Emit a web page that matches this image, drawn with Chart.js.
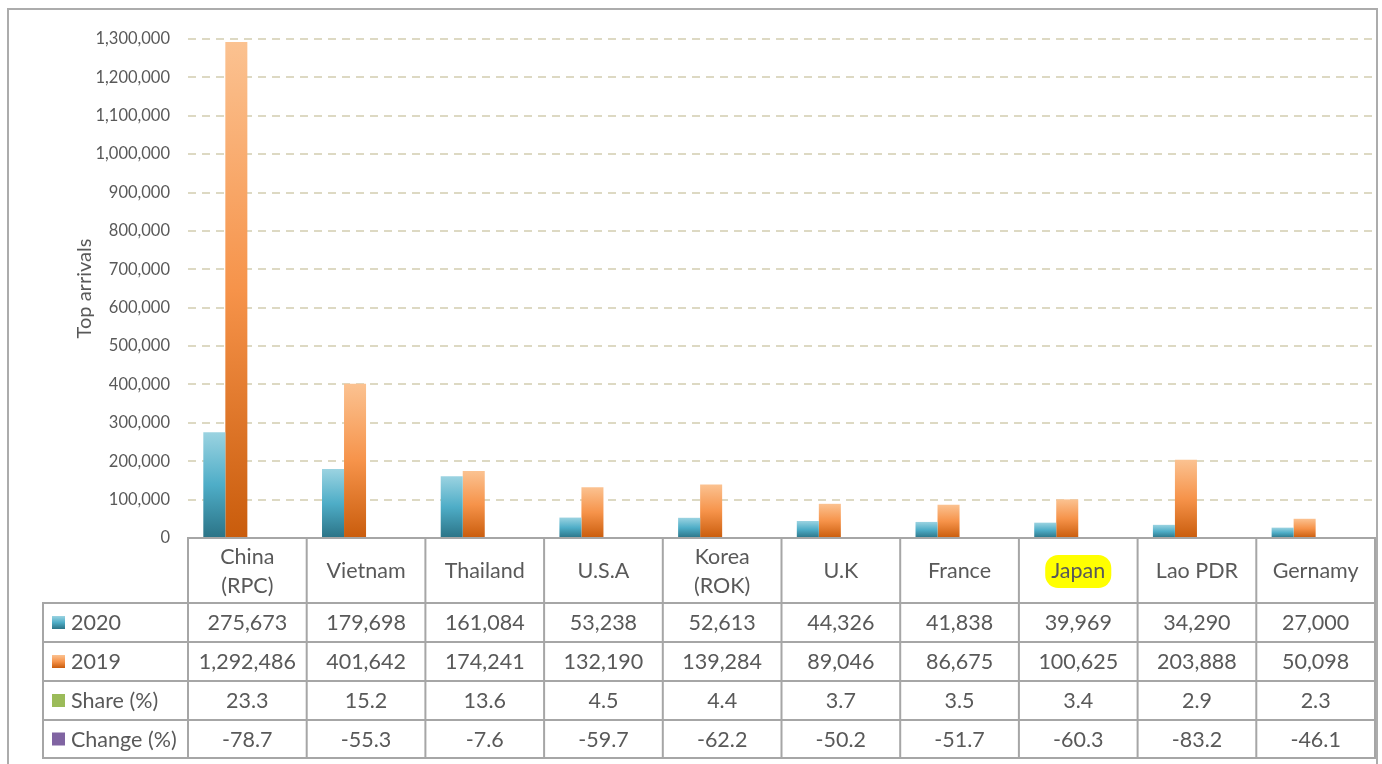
<!DOCTYPE html>
<html><head><meta charset="utf-8">
<script src="https://cdn.jsdelivr.net/npm/chart.js@4"></script>
<style>html,body{margin:0;padding:0;background:#fff;overflow:hidden}canvas{display:block}</style>
</head><body>
<canvas id="c" width="1382" height="764"></canvas>
<script>
// ---- data ----
const categories = ['China\n(RPC)', 'Vietnam', 'Thailand', 'U.S.A', 'Korea\n(ROK)', 'U.K', 'France', 'Japan', 'Lao PDR', 'Gernamy'];
const arrivals2020 = [275673, 179698, 161084, 53238, 52613, 44326, 41838, 39969, 34290, 27000];
const arrivals2019 = [1292486, 401642, 174241, 132190, 139284, 89046, 86675, 100625, 203888, 50098];
const sharePct = [23.3, 15.2, 13.6, 4.5, 4.4, 3.7, 3.5, 3.4, 2.9, 2.3];
const changePct = [-78.7, -55.3, -7.6, -59.7, -62.2, -50.2, -51.7, -60.3, -83.2, -46.1];
const seriesNames = ['2020', '2019', 'Share (%)', 'Change (%)'];
const highlightedCategories = ['Japan'];
const yAxisTitle = 'Top arrivals';
const yMin = 0, yMax = 1300000, yStep = 100000;

// ---- styles ----
const TEXT = '#595959';
const FONT = 'Lato, "Open Sans", sans-serif';
const blueStops = ['#9bd3e1', '#4eadc7', '#2b7386'];
const orangeStops = ['#fbc291', '#f6934a', '#c95c0c'];
const greenColor = '#9bbb59';
const purpleColor = '#8064a2';

function barGradient(stops) {
  return function (ctx) {
    const chart = ctx.chart;
    if (!chart.chartArea || ctx.type !== 'data') return stops[1];
    const ys = chart.scales.y;
    const v = ctx.raw;
    const top = ys.getPixelForValue(Math.max(v, 0));
    const bot = ys.getPixelForValue(0);
    if (Math.abs(bot - top) < 1) return stops[1];
    const g = chart.ctx.createLinearGradient(0, top, 0, bot);
    g.addColorStop(0, stops[0]);
    g.addColorStop(0.5, stops[1]);
    g.addColorStop(1, stops[2]);
    return g;
  };
}

const fmtInt = v => v.toLocaleString('en-US');
const fmt1 = v => v.toFixed(1);

const tableRows = [
  { name: seriesNames[0], values: arrivals2020.map(fmtInt), key: blueStops },
  { name: seriesNames[1], values: arrivals2019.map(fmtInt), key: orangeStops },
  { name: seriesNames[2], values: sharePct.map(fmt1), key: greenColor },
  { name: seriesNames[3], values: changePct.map(fmt1), key: purpleColor }
];

const frame = {
  id: 'frame',
  beforeDraw(chart) {
    const ctx = chart.ctx;
    ctx.save();
    ctx.fillStyle = '#fff';
    ctx.fillRect(0, 0, chart.width, chart.height);
    ctx.strokeStyle = '#acacac';
    ctx.lineWidth = 2;
    ctx.strokeRect(8, 9, 1369, 800);
    ctx.restore();
  }
};

const dataTable = {
  id: 'dataTable',
  afterDraw(chart) {
    const { ctx, chartArea: ca } = chart;
    const n = categories.length;
    const cw = (ca.right - ca.left) / n;
    const rowH = [65, 39, 39, 39, 38];
    const rowY = [ca.bottom];
    rowH.forEach(h => rowY.push(rowY[rowY.length - 1] + h));
    const legendLeft = 43;
    ctx.save();
    // category labels
    ctx.font = '21.5px ' + FONT;
    ctx.textAlign = 'center';
    ctx.textBaseline = 'middle';
    categories.forEach((c, i) => {
      const cx = chart.scales.x.getPixelForValue(i);
      const lines = c.split('\n');
      const cy = (rowY[0] + rowY[1]) / 2 + 1;
      const lh = 29;
      if (highlightedCategories.includes(c)) {
        const w = ctx.measureText(c).width + 12;
        const h = 33;
        ctx.fillStyle = '#ffff00';
        ctx.beginPath();
        ctx.roundRect(cx - w / 2, cy - h / 2, w, h, 13);
        ctx.fill();
      }
      ctx.fillStyle = TEXT;
      lines.forEach((ln, k) => {
        ctx.fillText(ln, cx, cy + (k - (lines.length - 1) / 2) * lh);
      });
    });
    // data rows
    tableRows.forEach((r, ri) => {
      const y0 = rowY[ri + 1], y1 = rowY[ri + 2];
      const cy = (y0 + y1) / 2;
      // key
      const ks = 13;
      if (Array.isArray(r.key)) {
        const g = ctx.createLinearGradient(0, cy - ks / 2, 0, cy + ks / 2);
        g.addColorStop(0, r.key[0]); g.addColorStop(0.5, r.key[1]); g.addColorStop(1, r.key[2]);
        ctx.fillStyle = g;
      } else ctx.fillStyle = r.key;
      ctx.fillRect(52, cy - ks / 2, ks, ks);
      ctx.fillStyle = TEXT;
      ctx.textAlign = 'left';
      ctx.fillText(r.name, 71, cy + 1);
      ctx.textAlign = 'center';
      r.values.forEach((v, i) => {
        ctx.fillText(v, chart.scales.x.getPixelForValue(i), cy + 1);
      });
    });
    // grid lines
    ctx.strokeStyle = '#a6a6a6';
    ctx.lineWidth = 2;
    ctx.beginPath();
    ctx.moveTo(ca.left, rowY[0]); ctx.lineTo(ca.right, rowY[0]);
    for (let k = 1; k < rowY.length; k++) {
      ctx.moveTo(legendLeft, rowY[k]); ctx.lineTo(ca.right, rowY[k]);
    }
    for (let i = 0; i <= n; i++) {
      const x = ca.left + i * cw;
      ctx.moveTo(x, rowY[0] - 1); ctx.lineTo(x, rowY[rowY.length - 1] + 1);
    }
    ctx.moveTo(legendLeft, rowY[1] - 1); ctx.lineTo(legendLeft, rowY[rowY.length - 1] + 1);
    ctx.stroke();
    ctx.restore();
  }
};

new Chart(document.getElementById('c'), {
  type: 'bar',
  data: {
    labels: categories,
    datasets: [
      { label: seriesNames[0], data: arrivals2020, backgroundColor: barGradient(blueStops) },
      { label: seriesNames[1], data: arrivals2019, backgroundColor: barGradient(orangeStops) },
      { label: seriesNames[2], data: sharePct, backgroundColor: greenColor },
      { label: seriesNames[3], data: changePct, backgroundColor: purpleColor }
    ]
  },
  options: {
    responsive: false,
    animation: false,
    devicePixelRatio: 1,
    layout: { padding: { left: 0, top: 39, right: 7, bottom: 226 } },
    datasets: { bar: { categoryPercentage: 0.742, barPercentage: 1.0 } },
    plugins: { legend: { display: false }, tooltip: { enabled: false } },
    scales: {
      x: { display: false },
      y: {
        min: yMin, max: yMax,
        ticks: {
          stepSize: yStep, padding: 18, color: TEXT,
          font: { family: FONT, size: 16.5 },
          callback: v => fmtInt(v)
        },
        grid: { color: '#ddd9c3', lineWidth: 2, drawTicks: false },
        border: { display: false, dash: [8, 6] },
        title: {
          display: true, text: yAxisTitle, color: TEXT,
          font: { family: FONT, size: 20 }, padding: { top: 73, bottom: 0 }
        },
        afterFit(scale) { scale.width = 188; }
      }
    }
  },
  plugins: [frame, dataTable]
});
</script>
</body></html>
